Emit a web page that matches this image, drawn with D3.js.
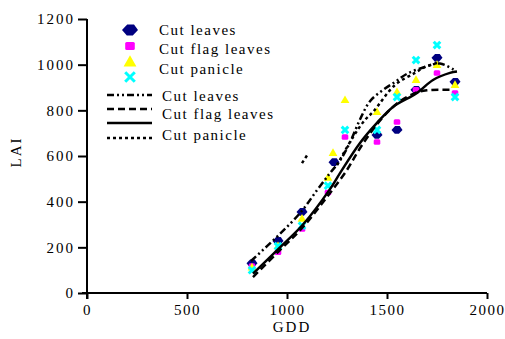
<!DOCTYPE html>
<html>
<head>
<meta charset="utf-8">
<script src="https://d3js.org/d3.v7.min.js"></script>
<style>
  body { margin: 0; background: #fff; }
  svg { font-family: "Liberation Serif", "Times New Roman", serif; }
  .axis path, .axis line { stroke: #000; stroke-width: 2; }
  .axis text { font-size: 15px; letter-spacing: 2px; fill: #000; font-family: "Liberation Serif", serif; }
  .xaxis text { letter-spacing: 1.5px; }
  .lbl { font-size: 15px; letter-spacing: 2px; fill: #000; }
  .leg { font-size: 15px; letter-spacing: 1.5px; fill: #000; }
</style>
</head>
<body>
<svg id="chart" width="505" height="339"></svg>
<script>
// measured points (GDD, LAI) per treatment
var leavesGdd = [825, 955, 1075, 1235, 1450, 1550, 1645, 1750, 1840];
var leavesLai = [130, 228, 355, 573, 692, 714, 890, 1030, 925];
var flagGdd = [825, 955, 1075, 1205, 1290, 1450, 1550, 1645, 1750, 1840];
var flagLai = [118, 178, 280, 440, 683, 661, 749, 890, 964, 876];
var panicleGdd = [825, 955, 1075, 1205, 1230, 1290, 1450, 1550, 1645, 1750, 1840];
var panicleLai = [112, 205, 325, 505, 613, 845, 793, 880, 933, 999, 911];
var crossGdd = [825, 955, 1075, 1205, 1290, 1450, 1550, 1645, 1750, 1840];
var crossLai = [100, 205, 295, 470, 714, 714, 858, 1020, 1086, 858];

// fitted curves
var fitLeavesGdd = [820, 960, 1070, 1150, 1215, 1265, 1315, 1365, 1415, 1480, 1540, 1600, 1690, 1765, 1840];
var fitLeavesLai = [140, 255, 355, 450, 525, 580, 660, 760, 840, 889, 924, 960, 990, 1005, 975];
var fitFlagGdd = [830, 965, 1080, 1215, 1300, 1350, 1400, 1470, 1550, 1640, 1700, 1830];
var fitFlagLai = [70, 188, 289, 438, 539, 613, 680, 760, 830, 875, 888, 890];
var fitSolidGdd = [830, 965, 1080, 1215, 1265, 1365, 1450, 1530, 1650, 1730, 1815, 1850];
var fitSolidLai = [85, 200, 300, 455, 525, 657, 745, 815, 876, 933, 964, 970];
var fitDotGdd = [1075, 1105, null, 1250, 1330, 1390, 1430, 1540, 1640, 1690, 1750];
var fitDotLai = [569, 609, null, 560, 683, 758, 793, 911, 964, 990, 1007];

var xTicks = [0, 500, 1000, 1500, 2000];
var yTicks = [0, 200, 400, 600, 800, 1000, 1200];
var legendNames = ["Cut leaves", "Cut flag leaves", "Cut panicle"];

var svg = d3.select("#chart");
var x = d3.scaleLinear().domain([0, 2000]).range([87, 487]);
var y = d3.scaleLinear().domain([0, 1200]).range([293, 19]);

function zip(a, b) { return a.map(function (v, i) { return [v, b[i]]; }); }

// axes
var gx = svg.append("g").attr("class", "axis xaxis")
  .attr("transform", "translate(0," + y(0) + ")")
  .call(d3.axisBottom(x).tickValues(xTicks).tickSize(6).tickSizeOuter(0).tickPadding(5).tickFormat(d3.format("d")));
var gy = svg.append("g").attr("class", "axis")
  .attr("transform", "translate(" + x(0) + ",0)")
  .call(d3.axisLeft(y).tickValues(yTicks).tickSize(9).tickSizeOuter(0).tickPadding(3).tickFormat(d3.format("d")));
gx.select(".domain").attr("d", "M" + (x(0) - 5) + ",0H" + x(2000));
gy.select(".domain").attr("d", "M0," + (y(0) + 6) + "V" + y(1200));

svg.append("text").attr("class", "lbl").attr("x", 292).attr("y", 332)
  .attr("text-anchor", "middle").text("GDD");
svg.append("text").attr("class", "lbl")
  .attr("transform", "translate(21,152) rotate(-90)")
  .attr("text-anchor", "middle").text("LAI");

// marker shapes
function diamond(g, s) {
  g.append("path")
    .attr("d", "M" + (-s) + ",0L" + (-s * 0.35) + "," + (-s * 0.7) + "L" + (s * 0.5) + "," + (-s * 0.7) +
      "L" + s + ",0L" + (s * 0.35) + "," + (s * 0.7) + "L" + (-s * 0.4) + "," + (s * 0.7) + "Z")
    .attr("fill", "#000080");
}
function square(g, s) {
  g.append("rect").attr("x", -s * 0.6).attr("y", -s * 0.5).attr("width", s * 1.2).attr("height", s)
    .attr("rx", 1.5).attr("fill", "#ff00ff");
}
function triangle(g, s) {
  g.append("path").attr("d", "M0," + (-s * 0.85) + "L" + (s * 0.8) + "," + (s * 0.55) + "L" + (-s * 0.8) + "," + (s * 0.55) + "Z")
    .attr("fill", "#ffff00");
}
function cross(g, s) {
  var k = s * 0.6;
  g.append("path").attr("d", "M" + (-k) + "," + (-k) + "L" + k + "," + k + "M" + (-k) + "," + k + "L" + k + "," + (-k))
    .attr("stroke", "#00ffff").attr("stroke-width", 3).attr("fill", "none");
}

var series = [
  { pts: zip(leavesGdd, leavesLai), draw: diamond },
  { pts: zip(flagGdd, flagLai), draw: square },
  { pts: zip(panicleGdd, panicleLai), draw: triangle },
  { pts: zip(crossGdd, crossLai), draw: cross }
];

series.forEach(function (s) {
  svg.append("g").selectAll("g").data(s.pts).enter().append("g")
    .attr("transform", function (d) { return "translate(" + x(d[0]) + "," + y(d[1]) + ")"; })
    .each(function () { s.draw(d3.select(this), 5.5); });
});

// fitted curves
var line = d3.line()
  .defined(function (d) { return d[0] != null; })
  .x(function (d) { return x(d[0]); })
  .y(function (d) { return y(d[1]); })
  .curve(d3.curveCatmullRom.alpha(0.5));

var fits = [
  { pts: zip(fitLeavesGdd, fitLeavesLai), dash: "7,3,2,3,2,3" },
  { pts: zip(fitFlagGdd, fitFlagLai), dash: "7,4" },
  { pts: zip(fitSolidGdd, fitSolidLai), dash: null },
  { pts: zip(fitDotGdd, fitDotLai), dash: "3,3" }
];
fits.forEach(function (f) {
  svg.append("path").datum(f.pts).attr("d", line)
    .attr("fill", "none").attr("stroke", "#000").attr("stroke-width", 2.5)
    .attr("stroke-dasharray", f.dash);
});

// legend
var legMarkY = [30, 46, 62, 77];
series.forEach(function (s, i) {
  var g = svg.append("g").attr("transform", "translate(130," + legMarkY[i] + ")");
  s.draw(g, 8);
});
legendNames.forEach(function (n, i) {
  svg.append("text").attr("class", "leg").attr("x", 159).attr("y", [30, 49, 69][i])
    .attr("dy", "0.35em").text(n);
});
var legLineY = [95, 109, 123, 138];
fits.forEach(function (f, i) {
  svg.append("line").attr("x1", 107).attr("x2", 152).attr("y1", legLineY[i]).attr("y2", legLineY[i])
    .attr("stroke", "#000").attr("stroke-width", 2.5).attr("stroke-dasharray", f.dash);
});
legendNames.forEach(function (n, i) {
  svg.append("text").attr("class", "leg").attr("x", 162).attr("y", [96, 114, 135][i])
    .attr("dy", "0.35em").text(n);
});
</script>
</body>
</html>
